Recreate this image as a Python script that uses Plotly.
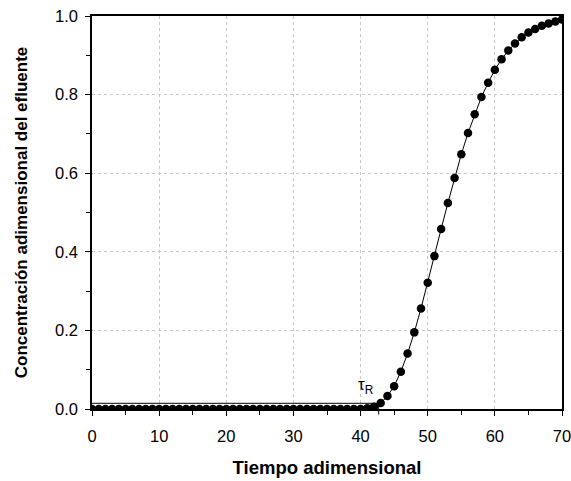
import plotly.graph_objects as go

# Dimensionless time and effluent concentration
tiempo = [0, 1, 2, 3, 4, 5, 6, 7, 8, 9, 10, 11, 12, 13, 14, 15, 16, 17, 18, 19,
          20, 21, 22, 23, 24, 25, 26, 27, 28, 29, 30, 31, 32, 33, 34, 35, 36, 37, 38, 39,
          40, 41, 42, 43, 44, 45, 46, 47, 48, 49, 50, 51, 52, 53, 54, 55, 56, 57, 58, 59,
          60, 61, 62, 63, 64, 65, 66, 67, 68, 69, 70]
concentracion = [0.0, 0.0, 0.0, 0.0, 0.0, 0.0, 0.0, 0.0, 0.0, 0.0,
                 0.0, 0.0, 0.0, 0.0, 0.0, 0.0, 0.0, 0.0, 0.0, 0.0,
                 0.0, 0.0, 0.0, 0.0, 0.0, 0.0, 0.0, 0.0, 0.0, 0.0,
                 0.0, 0.0, 0.0, 0.0, 0.0, 0.0, 0.0, 0.0, 0.0, 0.0,
                 0.0, 0.002, 0.006, 0.015, 0.033, 0.058, 0.095, 0.141, 0.195, 0.256,
                 0.321, 0.389, 0.458, 0.524, 0.588, 0.648, 0.702, 0.750, 0.794, 0.830,
                 0.863, 0.890, 0.912, 0.930, 0.946, 0.958, 0.967, 0.975, 0.981, 0.986,
                 0.991]

# Breakthrough time and threshold concentration
tau_R = 42.7
umbral = 0.0145
etiqueta_tau = "τ<sub>R</sub>"

font = "Liberation Sans, Arial, sans-serif"

fig = go.Figure()

fig.add_trace(go.Scatter(
    x=[0, tau_R], y=[umbral, umbral], mode="lines",
    line=dict(color="black", width=1), showlegend=False, hoverinfo="skip"))

fig.add_trace(go.Scatter(
    x=tiempo, y=concentracion, mode="lines+markers",
    line=dict(color="black", width=1),
    marker=dict(color="black", size=8.5, symbol="circle"),
    showlegend=False, cliponaxis=True))

# small tick marking tau_R at the x axis
fig.add_shape(type="line", xref="x", yref="paper", x0=tau_R, x1=tau_R,
              y0=-0.014, y1=0.008, line=dict(color="black", width=1))

fig.add_annotation(x=40.8, y=0.058, xref="x", yref="y", text=etiqueta_tau,
                   showarrow=False, font=dict(family=font, size=17, color="black"))

fig.update_layout(
    width=571, height=481,
    margin=dict(l=92, r=9, t=16, b=72),
    paper_bgcolor="white", plot_bgcolor="white",
    font=dict(family=font, size=16, color="black"),
)

fig.update_xaxes(
    range=[0, 70], tickvals=[0, 10, 20, 30, 40, 50, 60, 70],
    ticks="outside", ticklen=5, tickwidth=1, tickcolor="black",
    minor=dict(dtick=5, tick0=0, ticks="outside", ticklen=4, tickcolor="black", showgrid=False),
    showline=True, linecolor="black", linewidth=1.5, mirror=True,
    showgrid=True, gridcolor="#c8c8c8", griddash="dot", gridwidth=1,
    zeroline=False, automargin=False, ticklabelstandoff=6, ticklabeloverflow="allow",
    tickfont=dict(family=font, size=16.5),
    title=dict(text="<b>Tiempo adimensional</b>", font=dict(family=font, size=18.5), standoff=18),
)

fig.update_yaxes(
    range=[0, 1.0], tickvals=[0, 0.2, 0.4, 0.6, 0.8, 1.0], tickformat=".1f",
    ticks="outside", ticklen=5, tickwidth=1, tickcolor="black",
    minor=dict(dtick=0.1, tick0=0, ticks="outside", ticklen=4, tickcolor="black", showgrid=False),
    showline=True, linecolor="black", linewidth=1.5, mirror=True,
    showgrid=True, gridcolor="#c8c8c8", griddash="dot", gridwidth=1,
    zeroline=False, automargin=False, ticklabelstandoff=4, ticklabeloverflow="allow",
    tickfont=dict(family=font, size=16.5),
    title=dict(text="<b>Concentración adimensional del efluente</b>",
               font=dict(family=font, size=17), standoff=23),
)

fig.write_html("out.html")
